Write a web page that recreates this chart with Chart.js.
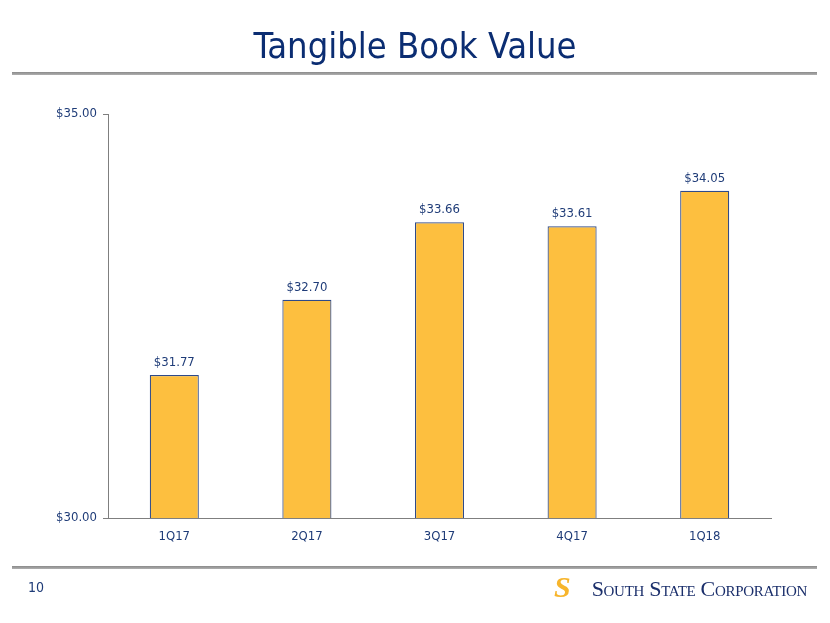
<!DOCTYPE html>
<html>
<head>
<meta charset="utf-8">
<script src="https://cdn.jsdelivr.net/npm/chart.js@4.4.0/dist/chart.umd.min.js"></script>
<style>
  html, body { margin: 0; padding: 0; background: #fff; }
  #wrap { position: relative; width: 830px; height: 623px; overflow: hidden; font-family: "DejaVu Sans Condensed", "DejaVu Sans", sans-serif; }
  #title { position: absolute; left: 0; width: 830px; top: 24px; text-align: center; font-size: 36px; color: #0B2D72; line-height: 44px; }
  .rule { position: absolute; left: 12px; width: 805px; height: 3px; background: linear-gradient(#8a8a8a, #b0b0b0); }
  #pg { position: absolute; left: 28px; top: 579px; font-size: 14px; color: #1F3C78; }
  #logoS { position: absolute; left: 554px; top: 571px; font-family: "Liberation Serif", serif; font-weight: bold; font-style: italic; font-size: 30px; line-height: 32px; color: #F7B52C; }
  #logoT { position: absolute; right: 23px; top: 574px; line-height: 30px; white-space: nowrap; font-family: "Liberation Serif", serif; font-variant: small-caps; font-size: 22px; color: #1B2F6B; letter-spacing: -0.3px; }
  canvas { position: absolute; left: 0; top: 0; }
</style>
</head>
<body>
<div id="wrap">
  <canvas id="c" width="830" height="623"></canvas>
  <div id="title">Tangible Book Value</div>
  <div class="rule" style="top:72px"></div>
  <div class="rule" style="top:566px"></div>
  <div id="pg">10</div>
  <div id="logoS">S</div>
  <div id="logoT">South State Corporation</div>
</div>
<script>
const categories = ["1Q17", "2Q17", "3Q17", "4Q17", "1Q18"];
const values = [31.77, 32.70, 33.66, 33.61, 34.05];
const yTicks = [30, 35];

const textColor = "#1F3C78";
const fontFamily = '"DejaVu Sans Condensed", "DejaVu Sans", sans-serif';

const labelPlugin = {
  id: "barLabels",
  afterDatasetsDraw(chart) {
    const ctx = chart.ctx;
    const meta = chart.getDatasetMeta(0);
    ctx.save();
    ctx.font = "13px " + fontFamily;
    ctx.fillStyle = textColor;
    ctx.textAlign = "center";
    ctx.textBaseline = "bottom";
    meta.data.forEach((bar, i) => {
      ctx.fillText("$" + values[i].toFixed(2), bar.x, bar.y - 6);
    });
    ctx.restore();
  }
};

new Chart(document.getElementById("c"), {
  type: "bar",
  data: {
    labels: categories,
    datasets: [{
      data: values,
      backgroundColor: "#FDBF3F",
      borderColor: "#2E4A8A",
      borderWidth: 1.2,
      borderSkipped: "bottom",
      barPercentage: 0.37,
      categoryPercentage: 1.0
    }]
  },
  options: {
    responsive: false,
    animation: false,
    layout: { padding: { left: 0, right: 59, top: 114, bottom: 0 } },
    plugins: { legend: { display: false }, tooltip: { enabled: false } },
    scales: {
      x: {
        grid: { display: false, drawTicks: false },
        border: { color: "#7f7f7f", width: 1 },
        ticks: { color: textColor, font: { family: fontFamily, size: 13 }, padding: 11 },
        afterFit(scale) { scale.height = 105; }
      },
      y: {
        min: 30, max: 35,
        afterBuildTicks(scale) { scale.ticks = yTicks.map(v => ({ value: v })); },
        grid: { drawOnChartArea: false, tickLength: 5, color: "#7f7f7f" },
        border: { color: "#7f7f7f", width: 1 },
        ticks: {
          color: textColor, font: { family: fontFamily, size: 13 }, padding: 6,
          callback: v => "$" + Number(v).toFixed(2)
        },
        afterFit(scale) { scale.width = 108; }
      }
    }
  },
  plugins: [labelPlugin]
});
</script>
</body>
</html>
